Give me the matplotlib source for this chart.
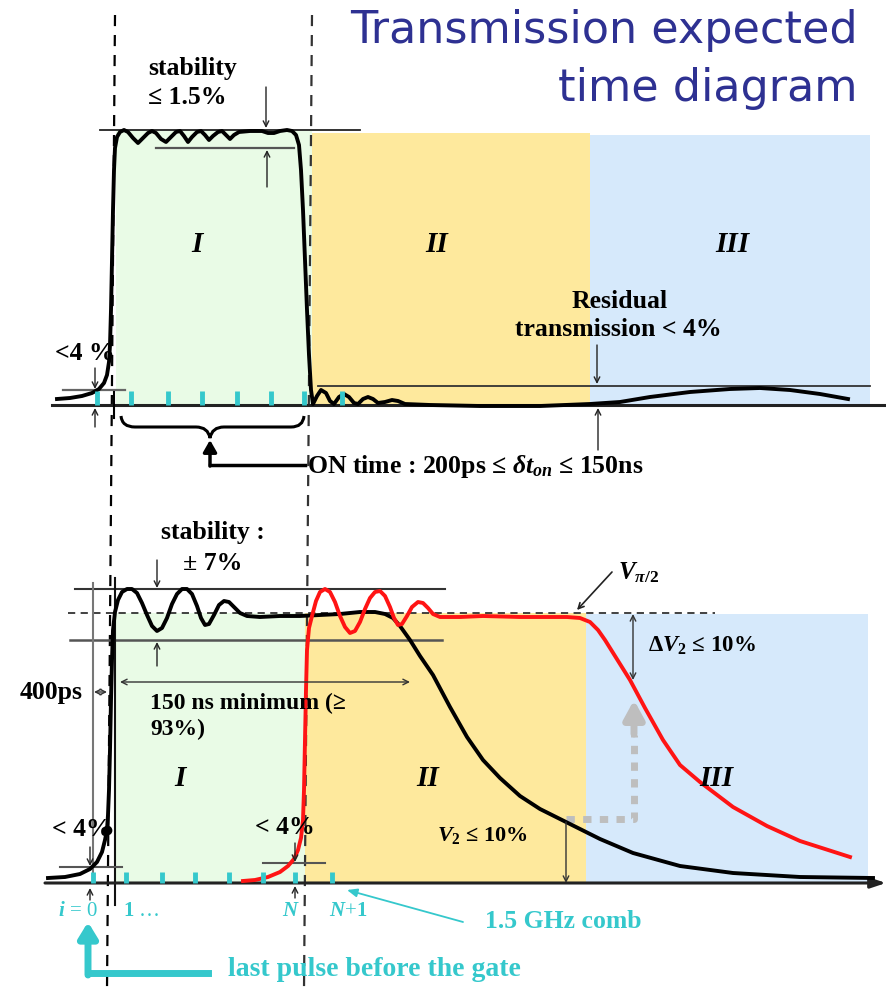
import matplotlib.pyplot as plt
from matplotlib.path import Path
from matplotlib.patches import PathPatch

plt.rcParams['mathtext.fontset'] = 'custom'
plt.rcParams['mathtext.rm'] = 'Liberation Serif:bold'
plt.rcParams['mathtext.it'] = 'Liberation Serif:italic:bold'
plt.rcParams['mathtext.bf'] = 'Liberation Serif:bold'

# canvas units = pixels of the original slide (y grows downward)
W, H = 886, 989
SERIF = 'Liberation Serif'
CYAN = '#35C8CC'
RED = '#FF1414'

# gate regions I / II / III
region_labels = ['I', 'II', 'III']
region_colors = ['#E9FBE6', '#FEE99D', '#D6E9FB']
top_regions = [(116, 312, 131), (312, 590, 133), (590, 870, 135)]
bot_regions = [(115, 305, 613), (305, 586, 613), (586, 868, 614)]
top_label_x = [197, 437, 732]
bot_label_x = [180, 428, 716]

# 1.5 GHz comb pulses
comb_top = [97, 131, 168, 202, 237, 271, 304, 342]
comb_bot = [93, 126, 162, 195, 229, 263, 295, 332]
comb_bot_labels = ['$i$ = 0', '$1$ …', '$N$', '$N$+$1$']
comb_bot_label_x = [78, 141, 291, 348]

# top panel: single gate transmission
top_x = [57, 70, 82, 92, 99, 104, 107, 109, 110, 111, 112, 113, 114, 115, 117, 120, 124,
         128, 133, 138, 143, 148, 152, 156, 161, 166, 171, 176, 180, 184, 188, 192, 197,
         201, 205, 209, 213, 218, 222, 226, 230, 234, 239, 250, 262, 268, 274, 280, 287,
         292, 296, 299, 301, 303, 305, 307, 309, 311, 313, 317, 321, 326, 330, 334, 339,
         344, 349, 354, 358, 363, 368, 373, 378, 385, 392, 398, 405, 430, 480, 540, 590,
         620, 650, 690, 730, 760, 790, 820, 848]
top_y = [399, 398, 396, 393, 389, 383, 375, 362, 345, 310, 260, 210, 170, 148, 137, 132, 130,
         132, 138, 143, 138, 133, 131, 133, 139, 142, 137, 132, 131, 136, 142, 137, 132,
         131, 135, 140, 136, 132, 131, 135, 139, 135, 132, 131, 131, 133, 133, 131, 130,
         131, 135, 145, 170, 210, 260, 310, 355, 390, 404, 396, 390, 393, 401, 404, 397,
         394, 397, 403, 404, 399, 397, 399, 403, 402, 400, 401, 404, 405, 406, 406, 404,
         402, 397, 392, 389, 388, 390, 394, 399]

# bottom panel: gate N (black) and gate N+1 (red)
blk_x = [48, 65, 80, 90, 97, 102, 105, 107, 108, 109, 110, 111, 112, 113, 115, 118, 122,
         127, 132, 137, 142, 147, 152, 157, 162, 167, 172, 177, 182, 187, 192, 197, 201,
         205, 209, 214, 219, 224, 229, 234, 240, 247, 260, 280, 300, 320, 340, 360, 375,
         385, 393, 400, 410, 420, 433, 450, 467, 483, 500, 520, 540, 566, 600, 633, 680,
         733, 800, 873]
blk_y = [878, 877, 874, 869, 862, 852, 840, 830, 815, 790, 750, 700, 660, 630, 612, 600, 592,
         589, 589, 593, 603, 615, 626, 631, 628, 618, 604, 594, 589, 589, 594, 606, 618,
         625, 624, 615, 605, 601, 602, 607, 613, 616, 617, 616, 616, 615, 614, 612, 612,
         614, 618, 626, 640, 656, 675, 707, 737, 760, 778, 796, 809, 822, 839, 853, 866,
         873, 877, 878]
red_x = [243, 255, 268, 280, 288, 294, 298, 301, 303, 304, 305, 306, 307, 309, 312, 316, 320,
         325, 330, 335, 340, 345, 350, 355, 360, 365, 370, 375, 380, 385, 390, 394, 398,
         402, 407, 412, 418, 423, 428, 433, 440, 460, 483, 520, 567, 580, 590, 598, 605,
         615, 630, 645, 663, 680, 700, 733, 767, 800, 850]
red_y = [881, 880, 877, 872, 866, 859, 850, 838, 820, 790, 740, 690, 650, 628, 616, 601, 592,
         589, 592, 602, 616, 627, 633, 631, 622, 609, 598, 592, 591, 596, 607, 618, 625,
         624, 616, 607, 602, 603, 608, 614, 617, 617, 616, 617, 617, 618, 622, 630, 640,
         656, 680, 708, 740, 765, 782, 807, 826, 841, 857]

fig = plt.figure(figsize=(W / 100, H / 100), dpi=100)
ax = fig.add_axes([0, 0, 1, 1])
ax.set_xlim(0, W)
ax.set_ylim(H, 0)
ax.axis('off')


def arrow(x0, y0, x1, y1, style='->', lw=1.0, color='#222', z=5):
    ax.annotate('', xy=(x1, y1), xytext=(x0, y0), zorder=z,
                arrowprops=dict(arrowstyle=style, lw=lw, color=color,
                                shrinkA=0, shrinkB=0))


def label(x, y, s, size=18.5, ha='left', color='k', style='normal', weight='bold'):
    ax.text(x, y, s, fontsize=size, ha=ha, va='center', color=color,
            family=[SERIF, 'DejaVu Serif'], fontstyle=style, fontweight=weight, zorder=6)


# ---- regions
top_base, bot_base = 405, 883
for (x0, x1, top), c, lx, name in zip(top_regions, region_colors, top_label_x, region_labels):
    ax.fill_between([x0, x1], top, top_base, color=c, lw=0, zorder=0)
    label(lx, 245, name, size=21, ha='center', style='italic')
for (x0, x1, top), c, lx, name in zip(bot_regions, region_colors, bot_label_x, region_labels):
    ax.fill_between([x0, x1], top, bot_base, color=c, lw=0, zorder=0)
    label(lx, 779, name, size=21, ha='center', style='italic')

# ---- gate boundaries
ax.plot([115, 107], [15, 989], color='k', lw=1.6, ls=(0, (5, 4)), zorder=2)
ax.plot([312, 304], [15, 989], color='#333333', lw=1.6, ls=(0, (5, 4)), zorder=2)

# ---- title
for y, s in [(31, 'Transmission expected'), (88, 'time diagram')]:
    ax.text(858, y, s, fontsize=32, ha='right', va='center', color='#2E3192',
            family='DejaVu Sans', zorder=6)

# ================= top panel
ax.plot([100, 360], [130, 130], color='#222', lw=1.3, zorder=2)
ax.plot([156, 294], [148, 148], color='#555', lw=1.6, zorder=2)
ax.plot([318, 870], [386, 386], color='#333', lw=1.3, zorder=2)
ax.plot([63, 125], [390, 390], color='#666', lw=1.6, zorder=2)
ax.plot([52, W], [top_base, top_base], color='#222', lw=2.2, zorder=2)
ax.plot([114, 114], [392, 418], color='k', lw=1.5, zorder=2)
ax.plot(top_x, top_y, color='k', lw=2.8, solid_joinstyle='round', zorder=3)
ax.vlines(comb_top, 391, top_base, color=CYAN, lw=3.5, zorder=4)

arrow(266, 87, 266, 128)
arrow(267, 187, 267, 150)
arrow(95, 368, 95, 389)
arrow(95, 427, 95, 408)
arrow(597, 345, 597, 384)
arrow(598, 450, 598, 408)

label(148, 68, 'stability')
label(148, 98, '≤ 1.5%')
label(55, 353, '<4 %')
label(620, 301, 'Residual', ha='center')
label(618, 330, 'transmission < 4%', ha='center')

# ON time brace and arrow
brace = Path([(121, 416), (122, 427), (135, 427), (196, 427), (208, 427), (210, 438),
              (212, 427), (224, 427), (291, 427), (303, 427), (304, 416)],
             [Path.MOVETO, Path.CURVE3, Path.CURVE3, Path.LINETO, Path.CURVE3, Path.CURVE3,
              Path.CURVE3, Path.CURVE3, Path.LINETO, Path.CURVE3, Path.CURVE3])
ax.add_patch(PathPatch(brace, fc='none', ec='k', lw=2.2, zorder=4))
ax.plot([305, 210], [465, 465], color='k', lw=2.5, zorder=4)
ax.annotate('', xy=(210, 440), xytext=(210, 466), zorder=4,
            arrowprops=dict(arrowstyle='-|>,head_length=0.7,head_width=0.4', lw=2.5,
                            color='k', shrinkA=0, shrinkB=0))
label(307, 467, r'ON time : 200ps ≤ $\delta t_{on}$ ≤ 150ns')

# ================= bottom panel
ax.plot([75, 445], [589, 589], color='#333', lw=1.5, zorder=2)
ax.plot([68, 715], [613, 613], color='#333', lw=1.3, ls=(0, (4, 3)), zorder=2)
ax.plot([70, 442], [640, 640], color='#555', lw=1.8, zorder=2)
ax.plot([93, 93], [583, bot_base], color='#777', lw=1.5, zorder=2)
ax.plot([115, 115], [578, 905], color='#111', lw=1.5, zorder=2)
ax.plot([60, 122], [867, 867], color='#555', lw=1.5, zorder=2)
ax.plot([263, 325], [863, 863], color='#555', lw=1.5, zorder=2)
ax.annotate('', xy=(W, bot_base), xytext=(45, bot_base), zorder=2,
            arrowprops=dict(arrowstyle='-|>,head_length=0.9,head_width=0.3', lw=2.2,
                            color='#222', shrinkA=0, shrinkB=0))

# gray dotted guide V2 -> dV2
ax.plot([566, 634, 634], [819, 819, 735], color='#BEBEBE', lw=5, ls=(0, (1.2, 1.2)),
        zorder=2)
ax.annotate('', xy=(634, 700), xytext=(634, 734), zorder=2,
            arrowprops=dict(arrowstyle='-|>,head_length=1.1,head_width=0.6', lw=5,
                            color='#BEBEBE', shrinkA=0, shrinkB=0))

ax.plot(blk_x, blk_y, color='k', lw=2.8, solid_joinstyle='round', zorder=3)
ax.plot(red_x, red_y, color=RED, lw=2.8, solid_joinstyle='round', zorder=3)
ax.plot([107], [830], 'o', color='k', ms=6, zorder=4)
ax.vlines(comb_bot, 872, bot_base, color=CYAN, lw=3.5, zorder=4)

arrow(157, 560, 157, 588)
arrow(157, 666, 157, 642)
arrow(90, 847, 90, 866)
arrow(90, 900, 90, 888)
arrow(295, 843, 295, 862)
arrow(295, 898, 295, 886)
arrow(120, 682, 410, 682, style='<->', color='#333')
arrow(94, 692, 107, 692, style='<->', color='#333')
arrow(633, 614, 633, 680, style='<->', color='#333')
arrow(566, 822, 566, 883, color='#333')
arrow(612, 572, 577, 610, lw=1.2)

label(213, 532, 'stability :', ha='center')
label(213, 563, '± 7%', ha='center')
label(20, 692, '400ps')
label(150, 703, '150 ns minimum (≥', size=17)
label(150, 729, '93%)', size=17)
label(52, 830, '< 4%')
label(255, 827, '< 4%')
label(618, 573, r'$V_{\pi/2}$', size=18)
label(648, 646, r'Δ$V_2$ ≤ 10%', size=16.5)
label(437, 836, r'$V_2$ ≤ 10%', size=16)

# comb annotations
for x, s in zip(comb_bot_label_x, comb_bot_labels):
    label(x, 912, s, ha='center', color=CYAN, size=15, weight='normal')
ax.annotate('', xy=(347, 890), xytext=(463, 922), zorder=5,
            arrowprops=dict(arrowstyle='-|>,head_length=0.6,head_width=0.25', lw=1.3,
                            color=CYAN, shrinkA=0, shrinkB=0))
label(485, 922, '1.5 GHz comb', color=CYAN)
ax.plot([208, 88], [973, 973], color=CYAN, lw=5, zorder=5)
ax.annotate('', xy=(88, 922), xytext=(88, 975), zorder=5,
            arrowprops=dict(arrowstyle='-|>,head_length=0.9,head_width=0.55', lw=5,
                            color=CYAN, shrinkA=0, shrinkB=0))
label(228, 969, 'last pulse before the gate', size=20, color=CYAN)

fig.savefig('out.png', dpi=100)
